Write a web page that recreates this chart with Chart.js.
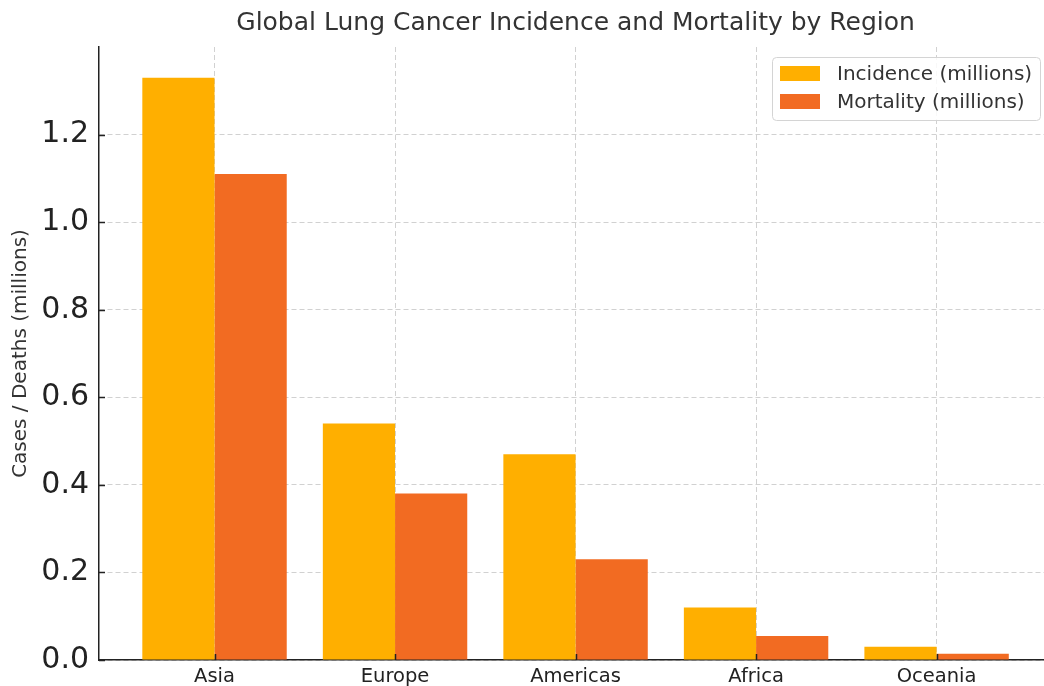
<!DOCTYPE html>
<html>
<head>
<meta charset="utf-8">
<script src="https://cdn.jsdelivr.net/npm/chart.js@4.4.1/dist/chart.umd.min.js"></script>
<style>
html,body{margin:0;padding:0;background:#fff;}
#wrap{width:1044px;height:686px;position:relative;}
</style>
</head>
<body>
<div id="wrap"><canvas id="c" width="1044" height="686"></canvas></div>
<script>
const regions = ["Asia", "Europe", "Americas", "Africa", "Oceania"];
const incidence = [1.33, 0.54, 0.47, 0.12, 0.03];
const mortality = [1.11, 0.38, 0.23, 0.055, 0.014];
const yTicks = [0, 0.2, 0.4, 0.6, 0.8, 1.0, 1.2];
const seriesNames = ["Incidence (millions)", "Mortality (millions)"];
const seriesColors = ["#FFAF00", "#F26B22"];
const titleText = "Global Lung Cancer Incidence and Mortality by Region";
const yTitle = "Cases / Deaths (millions)";

const FONT = "'DejaVu Sans', sans-serif";
const gridColor = "rgba(190,190,190,0.7)";

const inwardTicks = {
  id: 'inwardTicks',
  afterDraw(chart) {
    const ctx = chart.ctx, a = chart.chartArea;
    const xs = chart.scales.x, ys = chart.scales.y;
    ctx.save();
    ctx.strokeStyle = '#222';
    ctx.lineWidth = 1.5;
    ctx.beginPath();
    ys.ticks.forEach(t => {
      const p = Math.round(ys.getPixelForValue(t.value)) + 0.5;
      ctx.moveTo(a.left, p); ctx.lineTo(a.left + 6, p);
    });
    xs.ticks.forEach(t => {
      const p = Math.round(xs.getPixelForValue(t.value)) + 0.5;
      ctx.moveTo(p, a.bottom); ctx.lineTo(p, a.bottom - 6);
    });
    ctx.stroke();
    ctx.restore();
  }
};

const customTitle = {
  id: 'customTitle',
  afterDraw(chart) {
    const ctx = chart.ctx;
    const xs = chart.scales.x;
    const cx = (xs.getPixelForValue(-0.64) + xs.getPixelForValue(4.64)) / 2;
    ctx.save();
    ctx.font = "25px " + FONT;
    ctx.fillStyle = '#333';
    ctx.textAlign = 'center';
    ctx.textBaseline = 'middle';
    ctx.fillText(titleText, cx, 23);
    ctx.restore();
  }
};

const customLegend = {
  id: 'customLegend',
  afterDraw(chart) {
    const ctx = chart.ctx;
    ctx.save();
    const x = 772.5, y = 57.5, w = 268, h = 63, r = 4;
    ctx.beginPath();
    ctx.moveTo(x + r, y);
    ctx.lineTo(x + w - r, y); ctx.quadraticCurveTo(x + w, y, x + w, y + r);
    ctx.lineTo(x + w, y + h - r); ctx.quadraticCurveTo(x + w, y + h, x + w - r, y + h);
    ctx.lineTo(x + r, y + h); ctx.quadraticCurveTo(x, y + h, x, y + h - r);
    ctx.lineTo(x, y + r); ctx.quadraticCurveTo(x, y, x + r, y);
    ctx.closePath();
    ctx.fillStyle = 'rgba(255,255,255,0.85)';
    ctx.fill();
    ctx.strokeStyle = '#d4d4d4';
    ctx.lineWidth = 1;
    ctx.stroke();
    ctx.font = "20px " + FONT;
    ctx.textBaseline = 'middle';
    chart.data.datasets.forEach((ds, i) => {
      const yy = 66 + i * 28;
      ctx.fillStyle = ds.backgroundColor;
      ctx.fillRect(780, yy, 40, 15);
      ctx.fillStyle = '#333';
      ctx.fillText(ds.label, 837, yy + 9);
    });
    ctx.restore();
  }
};

new Chart(document.getElementById('c'), {
  type: 'bar',
  data: {
    datasets: [
      { label: seriesNames[0], data: regions.map((r, i) => ({x: i, y: incidence[i]})), backgroundColor: seriesColors[0], borderWidth: 0 },
      { label: seriesNames[1], data: regions.map((r, i) => ({x: i, y: mortality[i]})), backgroundColor: seriesColors[1], borderWidth: 0 }
    ]
  },
  options: {
    responsive: false,
    animation: false,
    devicePixelRatio: 1,
    layout: { padding: { top: 47, right: 0, left: 0, bottom: 0 } },
    datasets: { bar: { categoryPercentage: 0.8, barPercentage: 1.0 } },
    plugins: { legend: { display: false }, title: { display: false }, tooltip: { enabled: false } },
    scales: {
      x: {
        type: 'linear',
        min: -0.64,
        max: 4.595,
        offset: false,
        z: 1,
        afterBuildTicks: s => { s.ticks = regions.map((r, i) => ({ value: i })); },
        afterFit: s => { s.height = 26; s.paddingLeft = 0; s.paddingRight = 0; },
        ticks: {
          autoSkip: false, maxRotation: 0, padding: 5,
          color: '#222', font: { family: FONT, size: 19.5 },
          callback: (v) => regions[v]
        },
        grid: { offset: false, color: gridColor, lineWidth: 1, drawTicks: false, tickLength: 0 },
        border: { display: true, color: '#222', width: 1.5, dash: [5, 3] }
      },
      y: {
        type: 'linear',
        min: 0,
        max: 1.4,
        z: 1,
        afterBuildTicks: s => { s.ticks = yTicks.map(v => ({ value: v })); },
        afterFit: s => { s.width = 99; s.paddingTop = 0; s.paddingBottom = 0; },
        ticks: {
          padding: 10, color: '#222', font: { family: FONT, size: 30 },
          callback: v => v.toFixed(1)
        },
        title: { display: true, text: yTitle, color: '#333', font: { family: FONT, size: 20 }, padding: { top: 9, bottom: 0 } },
        grid: { color: gridColor, lineWidth: 1, drawTicks: false, tickLength: 0 },
        border: { display: true, color: '#222', width: 1.5, dash: [5, 3] }
      }
    }
  },
  plugins: [customTitle, customLegend, inwardTicks]
});
</script>
</body>
</html>
